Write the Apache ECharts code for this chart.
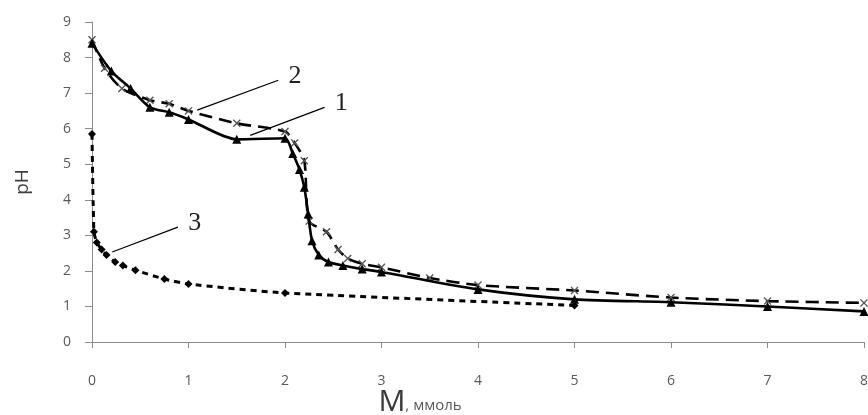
<!DOCTYPE html>
<html>
<head>
<meta charset="utf-8">
<script src="https://cdn.jsdelivr.net/npm/echarts@6/dist/echarts.min.js"></script>
<style>
  html, body { margin: 0; padding: 0; background: #fff; }
  #chart { width: 868px; height: 415px; }
</style>
</head>
<body>
<div id="chart"></div>
<script>
// кривая 1 (сплошная, треугольники)
const curve1X = [0, 0.2, 0.4, 0.6, 0.8, 1.0, 1.5, 2.0, 2.08, 2.15, 2.2, 2.24, 2.28, 2.35, 2.45, 2.6, 2.8, 3.0, 4, 5, 6, 7, 8]
const curve1Y = [8.4, 7.62, 7.13, 6.6, 6.46, 6.26, 5.7, 5.73, 5.3, 4.85, 4.35, 3.6, 2.85, 2.45, 2.25, 2.15, 2.05, 1.97, 1.48, 1.2, 1.12, 1.0, 0.86]
// кривая 2 (длинный пунктир, крестики)
const curve2X = [0, 0.13, 0.31, 0.6, 0.8, 1.0, 1.5, 2.0, 2.1, 2.2, 2.25, 2.43, 2.55, 2.65, 2.8, 3.0, 3.5, 4, 5, 6, 7, 8]
const curve2Y = [8.5, 7.7, 7.13, 6.8, 6.7, 6.5, 6.15, 5.92, 5.6, 5.1, 3.4, 3.1, 2.6, 2.35, 2.2, 2.1, 1.8, 1.6, 1.45, 1.25, 1.15, 1.1]
// кривая 3 (короткий пунктир, ромбы)
const curve3X = [0, 0.02, 0.05, 0.1, 0.15, 0.24, 0.32, 0.45, 0.75, 1.0, 2.0, 5.0]
const curve3Y = [5.85, 3.1, 2.8, 2.6, 2.45, 2.25, 2.15, 2.02, 1.77, 1.63, 1.38, 1.03]

const xTicks = [0, 1, 2, 3, 4, 5, 6, 7, 8]
const yTicks = [0, 1, 2, 3, 4, 5, 6, 7, 8, 9]

// выноски: начало, конец и подпись
const calloutNames = ['1', '2', '3']
const calloutFrom = [[1.64, 5.81], [1.09, 6.52], [0.21, 2.53]]
const calloutTo = [[2.41, 6.6], [1.93, 7.36], [0.89, 3.23]]

const pairs = (xs, ys) => xs.map((x, i) => [x, ys[i]])

const crossSymbol = 'path://M0,1.2L1.2,0L5,3.8L8.8,0L10,1.2L6.2,5L10,8.8L8.8,10L5,6.2L1.2,10L0,8.8L3.8,5Z'

const myChart = echarts.init(document.getElementById('chart'))

const option = {
  animation: false,
  textStyle: { fontFamily: 'Open Sans' },
  grid: { left: 92, right: 4, top: 22, bottom: 73, containLabel: false, outerBoundsMode: 'none' },
  xAxis: {
    type: 'value',
    min: xTicks[0],
    max: xTicks[xTicks.length - 1],
    interval: 1,
    name: '{big|M}{small|, ммоль}',
    nameLocation: 'middle',
    nameGap: 45,
    nameMoveOverlap: false,
    nameTextStyle: {
      padding: [0, 116, 0, 0],
      rich: {
        big: { fontSize: 30, color: '#3a3a3a', fontFamily: 'Open Sans' },
        small: { fontSize: 15, color: '#595959', fontFamily: 'Open Sans', padding: [8, 0, 0, 0] }
      }
    },
    axisLine: { lineStyle: { color: '#8c8c8c', width: 1 } },
    axisTick: { show: true, length: 6, lineStyle: { color: '#8c8c8c' } },
    axisLabel: { margin: 32, fontSize: 14, color: '#595959' },
    splitLine: { show: false }
  },
  yAxis: {
    type: 'value',
    min: yTicks[0],
    max: yTicks[yTicks.length - 1],
    interval: 1,
    name: 'pH',
    nameLocation: 'middle',
    nameGap: 60,
    nameRotate: 90,
    nameMoveOverlap: false,
    nameTextStyle: { fontSize: 19, color: '#404040' },
    axisLine: { show: true, lineStyle: { color: '#8c8c8c', width: 1 } },
    axisTick: { show: true, length: 7, lineStyle: { color: '#8c8c8c' } },
    axisLabel: { margin: 21, fontSize: 14, color: '#595959' },
    splitLine: { show: false }
  },
  series: [
    {
      name: '1',
      type: 'line',
      data: pairs(curve1X, curve1Y),
      smooth: 0.25,
      symbol: 'triangle',
      symbolSize: 9,
      itemStyle: { color: '#000' },
      lineStyle: { color: '#000', width: 2.6 },
      z: 3,
      markLine: {
        silent: true,
        symbol: 'none',
        lineStyle: { color: '#000', width: 1.2, type: 'solid' },
        label: {
          position: 'end',
          distance: 11,
          fontSize: 26,
          fontFamily: 'Liberation Serif',
          color: '#222',
          formatter: p => p.name
        },
        data: calloutNames.map((n, i) => [
          { name: n, coord: calloutFrom[i] },
          { coord: calloutTo[i] }
        ])
      }
    },
    {
      name: '2',
      type: 'line',
      data: pairs(curve2X, curve2Y),
      smooth: 0.25,
      symbol: crossSymbol,
      symbolSize: 8,
      itemStyle: { color: '#555' },
      lineStyle: { color: '#000', width: 2.6, type: [13, 7] },
      z: 2
    },
    {
      name: '3',
      type: 'line',
      data: pairs(curve3X, curve3Y),
      smooth: 0.2,
      symbol: 'diamond',
      symbolSize: 8,
      itemStyle: { color: '#000' },
      lineStyle: { color: '#000', width: 3, type: [6, 5] },
      z: 2
    }
  ]
}
myChart.setOption(option)
</script>
</body>
</html>
